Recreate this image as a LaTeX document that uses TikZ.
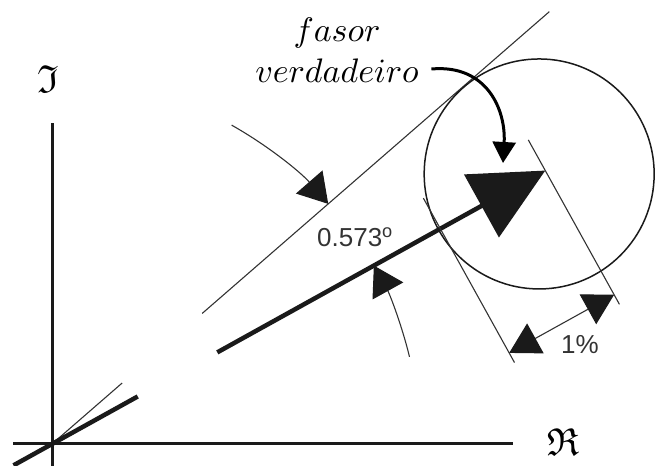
\documentclass[tikz,border=0pt]{standalone}
\usepackage{amssymb}
\usepackage{fontspec}
\newfontfamily\sansfont{Liberation Sans}
\usepackage{xcolor}
\definecolor{cInk}{HTML}{1A1A1A}
\definecolor{cThin}{HTML}{333333}
\usetikzlibrary{arrows.meta,calc}
\tikzset{
  line-axis/.style={draw=cInk,line width=3pt},
  line-phasor/.style={draw=cInk,line width=4.5pt},
  line-thin/.style={draw=cThin,line width=1.1pt},
  line-circle/.style={draw=cInk,line width=1.5pt},
  arrow-phasor/.style={line-phasor,-{Triangle[length=73pt,width=71pt]}},
  arrow-angle/.style={line-thin,-{Triangle[length=29pt,width=35pt,color=cInk]}},
  arrow-dim/.style={line-thin,
    {Triangle[length=30pt,width=34pt,color=cInk]}-{Triangle[length=30pt,width=34pt,color=cInk]}},
  arrow-note/.style={draw=black,line width=3pt,-{Triangle[length=21pt,width=23pt]}},
  label-sans/.style={font=\sansfont\fontsize{26}{30}\selectfont,text=cThin},
  label-axis/.style={scale=3.9,inner sep=0pt},
  label-note/.style={scale=3.4,align=center,inner sep=0pt},
}

\begin{document}
\begin{tikzpicture}[x=1pt,y=1pt]
  \useasboundingbox (0,0) rectangle (657,466);
  % eixos
  \coordinate (O) at (52,22);
  \coordinate (re-start) at (13,22);
  \coordinate (re-end) at (513,22);
  \coordinate (im-start) at (52,0);
  \coordinate (im-end) at (52,343);
  \draw[line-axis] (re-start) -- (re-end);
  \draw[line-axis] (im-start) -- (im-end);
  \node[label-axis] (re) at (563,24) {$\mathfrak{R}$};
  \node[label-axis] (im) at (48,387) {$\mathfrak{I}$};
  % fasor medido (29 graus) e fasor verdadeiro (41 graus)
  \coordinate (ph-a) at ($(O)+(29:-44)$);
  \coordinate (ph-b) at ($(O)+(29:98)$);
  \coordinate (ph-c) at ($(O)+(29:189)$);
  \coordinate (tip) at ($(O)+(29:564)$);
  \coordinate (ctr) at ($(O)+(29:557)$);
  \coordinate (tr-b) at ($(O)+(41:93)$);
  \coordinate (tr-c) at ($(O)+(41:199)$);
  \coordinate (tr-d) at ($(O)+(41:659)$);
  \draw[line-thin] (O) -- (tr-b);
  \draw[line-thin] (tr-c) -- (tr-d);
  \draw[line-phasor] (ph-a) -- (ph-b);
  \draw[arrow-phasor] (ph-c) -- (tip);
  \draw[line-circle] (ctr) circle[radius=115];
  % cotas de 1%
  \coordinate (dimA-1) at ($(O)+(29:444)+(-61:-35)$);
  \coordinate (dimA-2) at ($(O)+(29:444)+(-61:153)$);
  \coordinate (dimA-3) at ($(O)+(29:444)+(-61:142)$);
  \coordinate (dimB-1) at ($(O)+(29:564)+(-61:-35)$);
  \coordinate (dimB-2) at ($(O)+(29:564)+(-61:153)$);
  \coordinate (dimB-3) at ($(O)+(29:564)+(-61:142)$);
  \draw[line-thin] (dimA-1) -- (dimA-2);
  \draw[line-thin] (dimB-1) -- (dimB-2);
  \draw[arrow-dim] (dimA-3) -- (dimB-3);
  \node[label-sans] (pct-lbl) at (580,121) {1\%};
  % angulo
  \coordinate (ang-top) at ($(O)+(60.6:366)$);
  \coordinate (ang-bot) at ($(O)+(13.7:368)$);
  \draw[arrow-angle] (ang-top) arc[start angle=60.6,end angle=41,radius=366];
  \draw[arrow-angle] (ang-bot) arc[start angle=13.7,end angle=29,radius=368];
  \node[label-sans] (ang-lbl) at (355,229) {0.573\textsuperscript{o}};
  % rotulo
  \node[label-note] (note) at (337,416) {$fasor$\\$verdadeiro$};
  \coordinate (hit) at (503,303);
  \draw[arrow-note] ([xshift=12pt,yshift=-19pt]note.east) .. controls (487,402) and (506,356) .. (hit);
\end{tikzpicture}
\end{document}
